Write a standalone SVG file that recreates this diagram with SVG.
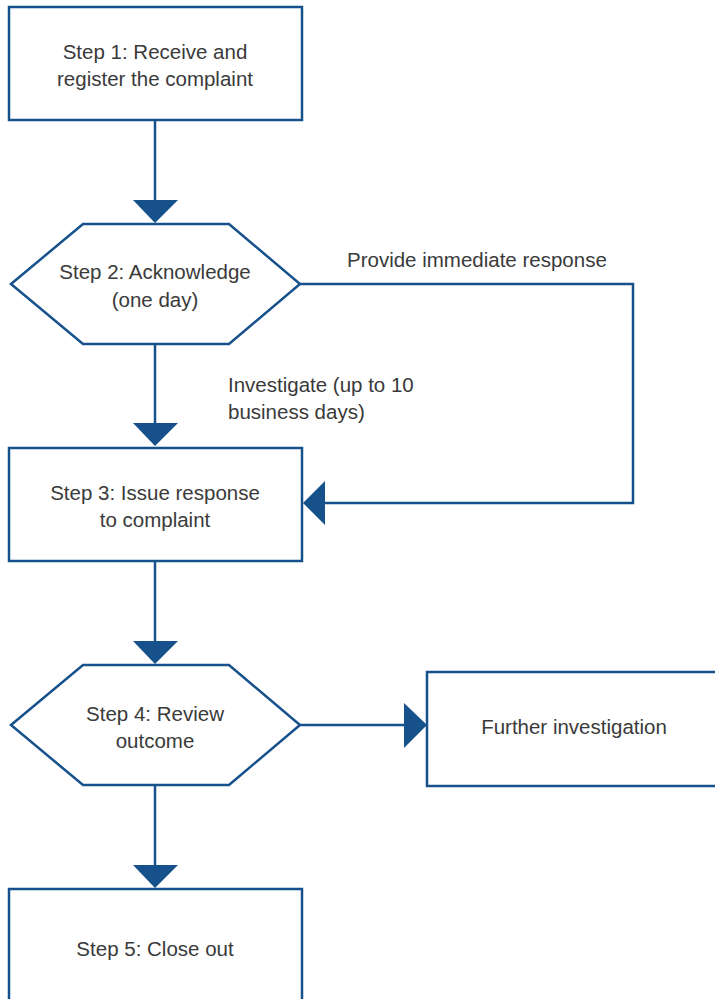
<svg xmlns="http://www.w3.org/2000/svg" width="715" height="999" viewBox="0 0 715 999">
<style>
.s{fill:#fff;stroke:#17518c;stroke-width:2.5}
.c{fill:none;stroke:#17518c;stroke-width:2.5}
.h{fill:#17518c}
text{font-family:"Liberation Sans",Arial,sans-serif;font-size:20.5px;fill:#3a3a3a}
.m{text-anchor:middle}
</style>
<rect width="715" height="999" fill="#fff"/>
<g id="connectors">
<path class="c" d="M155 120V202"/>
<polygon class="h" points="133,200 178,200 155,223"/>
<path class="c" d="M155 344V425"/>
<polygon class="h" points="133,423 178,423 155,446"/>
<path class="c" d="M300 284H633V503H323"/>
<polygon class="h" points="303,503 325,481 325,525"/>
<path class="c" d="M155 561V643"/>
<polygon class="h" points="133,641 178,641 155,664"/>
<path class="c" d="M300 725H406"/>
<polygon class="h" points="427,725 404,703 404,748"/>
<path class="c" d="M155 785V867"/>
<polygon class="h" points="133,865 178,865 155,888"/>
<text x="347" y="267">Provide immediate response</text>
<text x="228" y="392">Investigate (up to 10</text>
<text x="228" y="419">business days)</text>
</g>
<g id="step1">
<rect class="s" x="9" y="7" width="293" height="113"/>
<text class="m" x="155" y="59">Step 1: Receive and</text>
<text class="m" x="155" y="86">register the complaint</text>
</g>
<g id="step2">
<polygon class="s" points="11,284 83,224 229,224 300,284 229,344 83,344"/>
<text class="m" x="155" y="279">Step 2: Acknowledge</text>
<text class="m" x="155" y="307">(one day)</text>
</g>
<g id="step3">
<rect class="s" x="9" y="448" width="293" height="113"/>
<text class="m" x="155" y="500">Step 3: Issue response</text>
<text class="m" x="155" y="527">to complaint</text>
</g>
<g id="step4">
<polygon class="s" points="11,725 83,665 229,665 300,725 229,785 83,785"/>
<text class="m" x="155" y="721">Step 4: Review</text>
<text class="m" x="155" y="748">outcome</text>
</g>
<g id="further">
<rect class="s" x="427" y="672" width="300" height="114"/>
<text class="m" x="574" y="734">Further investigation</text>
</g>
<g id="step5">
<rect class="s" x="9" y="889" width="293" height="120"/>
<text class="m" x="155" y="956">Step 5: Close out</text>
</g>
</svg>
